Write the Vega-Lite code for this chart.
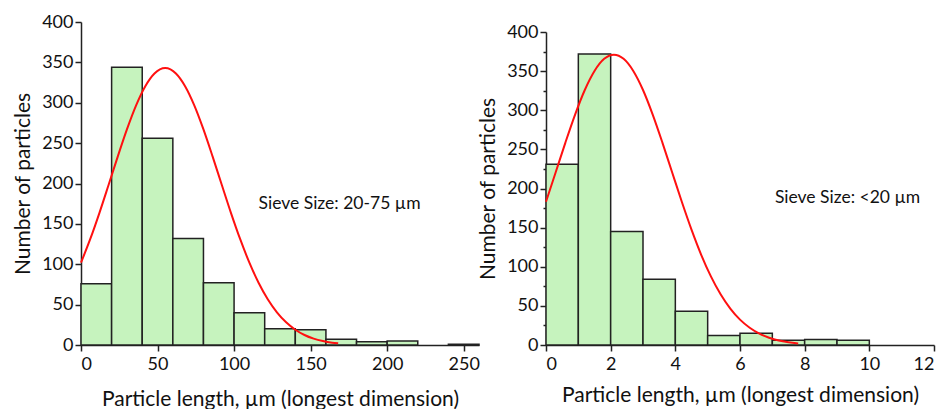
{
  "$schema": "https://vega.github.io/schema/vega-lite/v6.json",
  "padding": {"left": 12, "top": 13, "right": 5, "bottom": 0},
  "background": "white",
  "spacing": -3,
  "config": {
    "view": {"stroke": null},
    "font": "Lato",
    "axis": {
      "grid": false,
      "domainColor": "#222",
      "domainWidth": 1.5,
      "tickColor": "#222",
      "tickWidth": 1.5,
      "labelFont": "Lato",
      "labelFontSize": 18,
      "labelColor": "#111",
      "labelPadding": 4,
      "labelOverlap": false,
      "titleFont": "Lato",
      "titleFontSize": 21,
      "titleFontWeight": "normal",
      "titleColor": "#111"
    }
  },
  "hconcat": [
    {
      "width": 398,
      "height": 323,
      "layer": [
        {
          "data": {"values": [
            {"start": 0, "end": 20, "count": 76},
            {"start": 20, "end": 40, "count": 344},
            {"start": 40, "end": 60, "count": 256},
            {"start": 60, "end": 80, "count": 132},
            {"start": 80, "end": 100, "count": 77},
            {"start": 100, "end": 120, "count": 40},
            {"start": 120, "end": 140, "count": 20},
            {"start": 140, "end": 160, "count": 19},
            {"start": 160, "end": 180, "count": 7},
            {"start": 180, "end": 200, "count": 4},
            {"start": 200, "end": 220, "count": 5},
            {"start": 240, "end": 260, "count": 1}
          ]},
          "mark": {"type": "rect", "fill": "#c6f3be", "stroke": "#222", "strokeWidth": 1.5},
          "encoding": {
            "x": {"field": "start", "type": "quantitative",
                  "scale": {"domain": [0, 260], "nice": false, "zero": false},
                  "axis": {"values": [0, 25, 50, 75, 100, 125, 150, 175, 200, 225, 250],
                           "labelExpr": "datum.value % 50 == 0 ? datum.label : ''",
                           "labelFontSize": {"condition": {"test": "datum.value % 50 == 0", "value": 18}, "value": 1},
                           "labelOverlap": false,
                           "tickSize": {"condition": {"test": "datum.value % 50 == 0", "value": 6}, "value": 3},
                           "title": "Particle length, µm (longest dimension)", "titlePadding": 15}},
            "x2": {"field": "end"},
            "y": {"field": "count", "type": "quantitative",
                  "scale": {"domain": [0, 400], "nice": false},
                  "axis": {"values": [0, 25, 50, 75, 100, 125, 150, 175, 200, 225, 250, 275, 300, 325, 350, 375, 400],
                           "labelExpr": "datum.value % 50 == 0 ? datum.label : ''",
                           "labelFontSize": {"condition": {"test": "datum.value % 50 == 0", "value": 18}, "value": 1},
                           "labelOverlap": false,
                           "labelPadding": 2,
                           "tickSize": {"condition": {"test": "datum.value % 50 == 0", "value": 6}, "value": 3},
                           "title": "Number of particles", "titlePadding": 8}},
            "y2": {"datum": 0}
          }
        },
        {
          "data": {"values": [
            {"x": 0, "y": 102.0}, {"x": 6, "y": 131.0}, {"x": 12, "y": 163.4}, {"x": 18, "y": 198.1},
            {"x": 24, "y": 233.3}, {"x": 30, "y": 267.0}, {"x": 36, "y": 296.8}, {"x": 42, "y": 320.5},
            {"x": 48, "y": 336.3}, {"x": 55, "y": 343.0}, {"x": 62, "y": 336.3}, {"x": 68, "y": 320.5},
            {"x": 74, "y": 296.8}, {"x": 80, "y": 267.0}, {"x": 86, "y": 233.3}, {"x": 92, "y": 198.1},
            {"x": 98, "y": 163.4}, {"x": 104, "y": 131.0}, {"x": 110, "y": 102.0}, {"x": 116, "y": 77.1},
            {"x": 122, "y": 56.7}, {"x": 128, "y": 40.5}, {"x": 134, "y": 28.1}, {"x": 140, "y": 18.9},
            {"x": 146, "y": 12.4}, {"x": 152, "y": 7.9}, {"x": 158, "y": 4.9}, {"x": 164, "y": 2.9},
            {"x": 168, "y": 2.1}
          ]},
          "mark": {"type": "line", "color": "#ff1010", "strokeWidth": 2, "interpolate": "monotone"},
          "encoding": {
            "x": {"field": "x", "type": "quantitative"},
            "y": {"field": "y", "type": "quantitative"}
          }
        },
        {
          "data": {"values": [{"x": 116, "y": 174, "label": "Sieve Size: 20-75 µm"}]},
          "mark": {"type": "text", "align": "left", "baseline": "middle", "font": "Lato", "fontSize": 17.5, "color": "#111"},
          "encoding": {
            "x": {"field": "x", "type": "quantitative"},
            "y": {"field": "y", "type": "quantitative"},
            "text": {"field": "label"}
          }
        }
      ]
    },
    {
      "spacing": -3,
      "vconcat": [
        {
          "width": 388,
          "height": 1,
          "data": {"values": [{"v": 0}]},
          "mark": {"type": "point", "opacity": 0},
          "encoding": {}
        },
        {
          "width": 388,
          "height": 313,
          "resolve": {"axis": {"y": "independent"}},
          "layer": [
            {
              "data": {"values": [
                {"start": 0, "end": 1, "count": 231},
                {"start": 1, "end": 2, "count": 372},
                {"start": 2, "end": 3, "count": 145},
                {"start": 3, "end": 4, "count": 84},
                {"start": 4, "end": 5, "count": 43},
                {"start": 5, "end": 6, "count": 12},
                {"start": 6, "end": 7, "count": 15},
                {"start": 7, "end": 8, "count": 6},
                {"start": 8, "end": 9, "count": 7},
                {"start": 9, "end": 10, "count": 6}
              ]},
              "mark": {"type": "rect", "fill": "#c6f3be", "stroke": "#222", "strokeWidth": 1.5},
              "encoding": {
                "x": {"field": "start", "type": "quantitative",
                      "scale": {"domain": [0, 12], "nice": false, "zero": false},
                      "axis": {"values": [0, 1, 2, 3, 4, 5, 6, 7, 8, 9, 10, 11, 12],
                               "labelExpr": "datum.value % 2 == 0 ? datum.label : ''",
                               "labelFontSize": {"condition": {"test": "datum.value % 2 == 0", "value": 18}, "value": 1},
                               "labelOverlap": false,
                               "tickSize": {"condition": {"test": "datum.value % 2 == 0", "value": 6}, "value": 3},
                               "title": "Particle length, µm (longest dimension)", "titlePadding": 11}},
                "x2": {"field": "end"},
                "y": {"field": "count", "type": "quantitative",
                      "scale": {"domain": [0, 400], "nice": false},
                      "axis": {"values": [0, 50, 100, 150, 200, 250, 300, 350, 400],
                               "orient": "left",
                               "labelOverlap": false,
                               "labelPadding": 2,
                               "tickSize": 6,
                               "title": "Number of particles", "titlePadding": 8}},
                "y2": {"datum": 0}
              }
            },
            {
              "data": {"values": [
                {"x": 0, "y": 183.0}, {"x": 0.3, "y": 220.8}, {"x": 0.6, "y": 258.7}, {"x": 0.9, "y": 294.5},
                {"x": 1.2, "y": 325.9}, {"x": 1.5, "y": 350.2}, {"x": 1.8, "y": 365.7}, {"x": 2.1, "y": 371.0},
                {"x": 2.4, "y": 365.7}, {"x": 2.7, "y": 350.2}, {"x": 3.0, "y": 325.9}, {"x": 3.3, "y": 294.5},
                {"x": 3.6, "y": 258.7}, {"x": 3.9, "y": 220.8}, {"x": 4.2, "y": 183.0}, {"x": 4.5, "y": 147.4},
                {"x": 4.8, "y": 115.3}, {"x": 5.1, "y": 87.7}, {"x": 5.4, "y": 64.8}, {"x": 5.7, "y": 46.5},
                {"x": 6.0, "y": 32.4}, {"x": 6.3, "y": 22.0}, {"x": 6.6, "y": 14.5}, {"x": 6.9, "y": 9.3},
                {"x": 7.2, "y": 5.7}, {"x": 7.5, "y": 3.5}, {"x": 7.8, "y": 2.0}
              ]},
              "mark": {"type": "line", "color": "#ff1010", "strokeWidth": 2, "interpolate": "monotone"},
              "encoding": {
                "x": {"field": "x", "type": "quantitative"},
                "y": {"field": "y", "type": "quantitative",
                      "axis": {"values": [25, 75, 125, 175, 225, 275, 325, 375],
                               "orient": "left", "labels": false, "domain": false,
                               "tickSize": 3, "title": null}}
              }
            },
            {
              "data": {"values": [{"x": 7.08, "y": 188, "label": "Sieve Size: <20 µm"}]},
              "mark": {"type": "text", "align": "left", "baseline": "middle", "font": "Lato", "fontSize": 17.5, "color": "#111"},
              "encoding": {
                "x": {"field": "x", "type": "quantitative"},
                "y": {"field": "y", "type": "quantitative", "axis": null},
                "text": {"field": "label"}
              }
            }
          ]
        }
      ]
    }
  ]
}
